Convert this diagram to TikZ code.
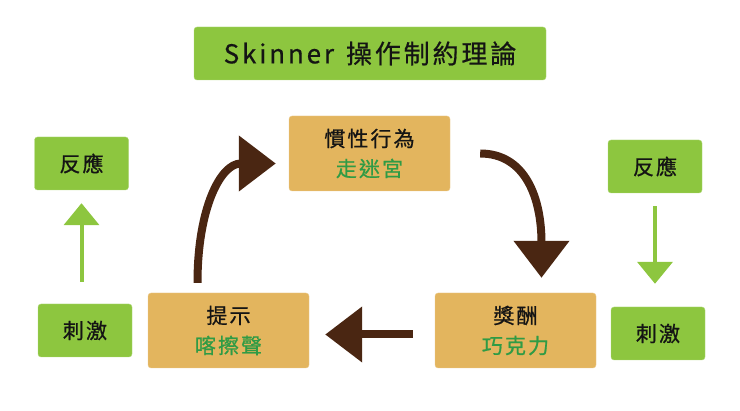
\documentclass[tikz,border=0pt]{standalone}
\usepackage{fontspec}
\usetikzlibrary{arrows.meta}
\newfontfamily\cjk[LetterSpace=10,FakeBold=0.8]{Noto Sans CJK TC}
\newfontfamily\cjktitle[LetterSpace=11,FakeBold=0.6]{Noto Sans CJK TC}
\definecolor{leafgreen}{HTML}{8DC63F}
\definecolor{mazeorange}{HTML}{E3B55E}
\definecolor{inkgreen}{HTML}{2F9B45}
\definecolor{bark}{HTML}{4A2612}
\definecolor{ink}{HTML}{141414}

\begin{document}
\begin{tikzpicture}[x=1pt,y=-1pt]
\tikzset{titlebox/.style = {shape=rectangle,fill=leafgreen,draw=leafgreen!70!white,rounded corners=3pt,minimum width=352pt,minimum height=53pt,text=ink,font=\cjktitle\fontsize{26}{30}\selectfont}}
\tikzset{srbox/.style = {shape=rectangle,fill=leafgreen,draw=leafgreen!70!white,rounded corners=3pt,minimum width=94pt,minimum height=53pt,text=ink,font=\cjk\fontsize{21}{24}\selectfont}}
\tikzset{stepbox/.style = {shape=rectangle,fill=mazeorange,draw=mazeorange!70!white,rounded corners=3pt,minimum width=161pt,minimum height=75pt,align=center,text=ink,font=\cjk\fontsize{21}{30}\selectfont}}
\tikzset{loop/.style = {-{Triangle[length=37pt,width=54pt]},line width=8pt,draw=bark}}
\tikzset{link/.style = {-{Triangle[length=22pt,width=35pt]},line width=4pt,draw=leafgreen}}
\useasboundingbox (0,0) rectangle (740,411);

% vertices
\node[titlebox] (title) at (370,53.5) {Skinner\hspace{12pt}操作制約理論};
\node[stepbox] (habit) at (369.5,153.5) {慣性行為\\\textcolor{inkgreen}{走迷宮}};
\node[stepbox] (cue) at (228.5,330.5) {提示\\\textcolor{inkgreen}{喀擦聲}};
\node[stepbox] (reward) at (515.5,330.5) {獎酬\\\textcolor{inkgreen}{巧克力}};

\node[srbox] (respL) at (81.5,163.5) {反應};
\node[srbox] (stimL) at (85,330.5) {刺激};
\node[srbox] (respR) at (655,166.5) {反應};
\node[srbox] (stimR) at (658,333.5) {刺激};

% free ends
\coordinate (cueout) at ([xshift=-31pt,yshift=10pt]cue.north);
\coordinate (habitin) at ([xshift=-13pt,yshift=-10pt]habit.west);
\coordinate (habitout) at ([xshift=30pt]habit.east);
\coordinate (rewardin) at ([xshift=26pt,yshift=15pt]reward.north);
\coordinate (rewardout) at ([xshift=-22pt,yshift=-4pt]reward.west);
\coordinate (cuein) at ([xshift=16pt,yshift=-4pt]cue.east);

%edges
\draw[loop] (cueout) .. controls +(0,-75) and +(-55,0) .. (habitin);
\draw[loop] (habitout) .. controls +(45,0) and +(0,-80) .. (rewardin);
\draw[loop] (rewardout) to (cuein);

\draw[link] ([yshift=22pt]stimL.north -| respL.south) to ([yshift=-13pt]respL.south);
\draw[link] ([yshift=-13pt]respR.south) to ([yshift=23pt]stimR.north -| respR.south);

\end{tikzpicture}
\end{document}
